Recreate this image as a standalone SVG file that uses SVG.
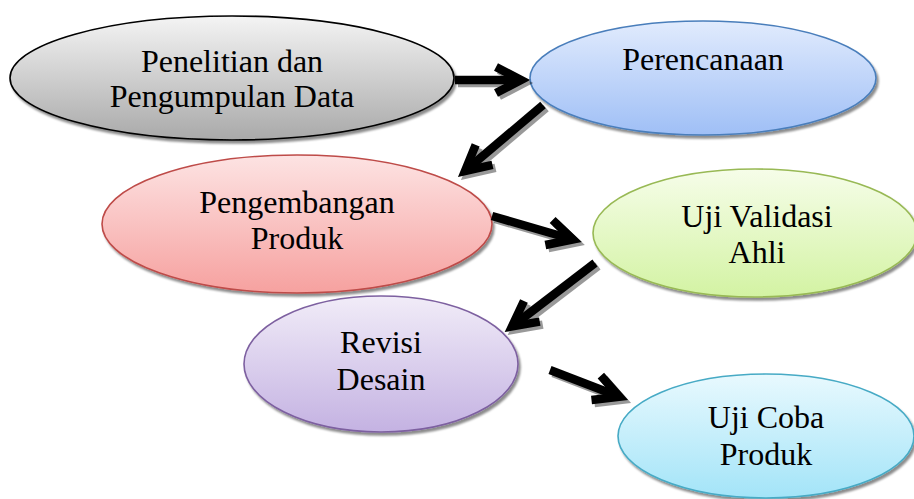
<svg xmlns="http://www.w3.org/2000/svg" width="914" height="499" viewBox="0 0 914 499">
<defs>
<style>
.lbl{font-family:"Liberation Serif","Times New Roman",serif;font-size:32px;fill:#000;text-anchor:middle}
.node{stroke-width:1.6;filter:url(#sh)}
.conn{fill:none;stroke:#000;stroke-width:8.5;marker-end:url(#chev);filter:url(#sh2)}
</style>
<filter id="sh" x="-10%" y="-10%" width="125%" height="130%">
<feDropShadow dx="2" dy="3" stdDeviation="1" flood-color="#000" flood-opacity="0.45"/>
</filter>
<filter id="sh2" filterUnits="userSpaceOnUse" x="0" y="0" width="914" height="499">
<feDropShadow dx="3" dy="3" stdDeviation="0.6" flood-color="#000" flood-opacity="0.4"/>
</filter>
<marker id="chev" markerUnits="userSpaceOnUse" orient="auto" refX="0" refY="0" markerWidth="60" markerHeight="60" viewBox="-30 -30 60 60" overflow="visible">
<path d="M-25,-13 L0,0 L-25,13" fill="none" stroke="#000" stroke-width="8.5" stroke-linejoin="miter" stroke-miterlimit="10"/>
</marker>
<linearGradient id="gGray" x1="0" y1="0" x2="0" y2="1"><stop offset="0" stop-color="#f4f4f4"/><stop offset="1" stop-color="#a9a9a9"/></linearGradient>
<linearGradient id="gBlue" x1="0" y1="0" x2="0" y2="1"><stop offset="0" stop-color="#e1ebfd"/><stop offset="1" stop-color="#9fbff6"/></linearGradient>
<linearGradient id="gRed" x1="0" y1="0" x2="0" y2="1"><stop offset="0" stop-color="#fde3e3"/><stop offset="1" stop-color="#f6a19f"/></linearGradient>
<linearGradient id="gGreen" x1="0" y1="0" x2="0" y2="1"><stop offset="0" stop-color="#f6fde9"/><stop offset="1" stop-color="#d3f3a3"/></linearGradient>
<linearGradient id="gPurple" x1="0" y1="0" x2="0" y2="1"><stop offset="0" stop-color="#f1ecf8"/><stop offset="1" stop-color="#c4b2e2"/></linearGradient>
<linearGradient id="gCyan" x1="0" y1="0" x2="0" y2="1"><stop offset="0" stop-color="#e8f9fe"/><stop offset="1" stop-color="#a3e4f8"/></linearGradient>
</defs>
<rect width="914" height="499" fill="#fff"/>

<g id="node-penelitian">
<ellipse class="node" cx="232" cy="78" rx="222" ry="62" fill="url(#gGray)" stroke="#000"/>
<text class="lbl" x="232" y="72">Penelitian dan</text>
<text class="lbl" x="232" y="107">Pengumpulan Data</text>
</g>
<g id="node-perencanaan">
<ellipse class="node" cx="703" cy="78" rx="173" ry="57" fill="url(#gBlue)" stroke="#4a7ebb"/>
<text class="lbl" x="703" y="70">Perencanaan</text>
</g>
<g id="node-pengembangan">
<ellipse class="node" cx="297" cy="224" rx="195" ry="69" fill="url(#gRed)" stroke="#be4b48"/>
<text class="lbl" x="297" y="213">Pengembangan</text>
<text class="lbl" x="297" y="249">Produk</text>
</g>
<g id="node-validasi">
<ellipse class="node" cx="755" cy="233" rx="162" ry="64" fill="url(#gGreen)" stroke="#98b954"/>
<text class="lbl" x="757" y="227">Uji Validasi</text>
<text class="lbl" x="757" y="263">Ahli</text>
</g>
<g id="node-revisi">
<ellipse class="node" cx="381" cy="364" rx="137" ry="68" fill="url(#gPurple)" stroke="#7d60a0"/>
<text class="lbl" x="381" y="353">Revisi</text>
<text class="lbl" x="381" y="390">Desain</text>
</g>
<g id="node-ujicoba">
<ellipse class="node" cx="766" cy="436" rx="148" ry="62" fill="url(#gCyan)" stroke="#46aac5"/>
<text class="lbl" x="766" y="428">Uji Coba</text>
<text class="lbl" x="766" y="465">Produk</text>
</g>

<g id="connectors">
<path class="conn" d="M455,80 L521,80"/>
<path class="conn" d="M543,105 L465,171"/>
<path class="conn" d="M492,216 L573,239.5"/>
<path class="conn" d="M595,263 L512,326.5"/>
<path class="conn" d="M550,370 L619.5,396.8"/>
</g>
</svg>
